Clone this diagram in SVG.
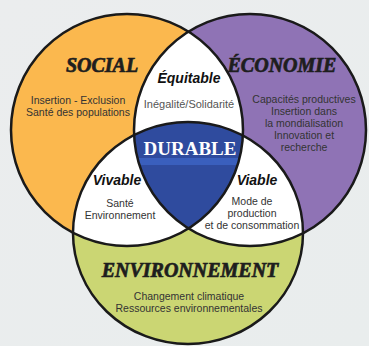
<svg xmlns="http://www.w3.org/2000/svg" width="369" height="346" viewBox="0 0 369 346">
  <style>
    .head { font-family: "Liberation Serif", serif; font-weight: bold; font-style: italic; font-size: 20px; fill: #1e1e1e; stroke: #1e1e1e; stroke-width: 0.7; text-anchor: middle; }
    .sub { font-family: "Liberation Sans", Arial, sans-serif; font-weight: bold; font-style: italic; font-size: 14px; fill: #111; text-anchor: middle; }
    .txt { font-family: "Liberation Sans", Arial, sans-serif; font-size: 10.5px; fill: #333; text-anchor: middle; }
    .outline { fill: none; stroke: #1a1a1a; stroke-width: 2.5; }
  </style>
  <defs>
    <clipPath id="clipO"><circle cx="127" cy="130" r="116"/></clipPath>
    <clipPath id="clipP"><circle cx="250" cy="130" r="116"/></clipPath>
    <clipPath id="clipG"><ellipse cx="188" cy="233" rx="115" ry="111"/></clipPath>
    <linearGradient id="bg" x1="0" y1="0" x2="1" y2="1">
      <stop offset="0" stop-color="#ebedee"/>
      <stop offset="1" stop-color="#e9eded"/>
    </linearGradient>
  </defs>
  <rect width="369" height="346" fill="url(#bg)"/>

  <g id="social">
    <circle cx="127" cy="130" r="116" fill="#fbb84e"/>
  </g>
  <g id="economie">
    <circle cx="250" cy="130" r="116" fill="#8f73b5"/>
  </g>
  <g id="environnement">
    <ellipse cx="188" cy="233" rx="115" ry="111" fill="#cbd673"/>
  </g>

  <g id="equitable">
    <circle cx="127" cy="130" r="116" fill="#ffffff" clip-path="url(#clipP)"/>
  </g>
  <g id="vivable">
    <circle cx="127" cy="130" r="116" fill="#ffffff" clip-path="url(#clipG)"/>
  </g>
  <g id="viable">
    <circle cx="250" cy="130" r="116" fill="#ffffff" clip-path="url(#clipG)"/>
  </g>
  <g id="durable">
    <g clip-path="url(#clipO)">
      <g clip-path="url(#clipP)">
        <g clip-path="url(#clipG)">
          <rect x="60" y="100" width="260" height="160" fill="#2f4b9e"/>
          <rect x="100" y="158" width="180" height="7" fill="#3a5fbd"/>
        </g>
      </g>
    </g>
  </g>

  <g id="outlines">
    <circle class="outline" cx="127" cy="130" r="116"/>
    <circle class="outline" cx="250" cy="130" r="116"/>
    <ellipse class="outline" cx="188" cy="233" rx="115" ry="111"/>
  </g>
  <g id="connectors"/>

  <g id="labels-social">
    <text class="head" x="102" y="72">SOCIAL</text>
    <text class="txt" x="78" y="104">Insertion - Exclusion</text>
    <text class="txt" x="78" y="116">Santé des populations</text>
  </g>
  <g id="labels-economie">
    <text class="head" x="282" y="72">ÉCONOMIE</text>
    <text class="txt" x="304" y="103">Capacités productives</text>
    <text class="txt" x="304" y="115">Insertion dans</text>
    <text class="txt" x="304" y="127">la mondialisation</text>
    <text class="txt" x="304" y="139">Innovation et</text>
    <text class="txt" x="304" y="151">recherche</text>
  </g>
  <g id="labels-environnement">
    <text class="head" x="190" y="277">ENVIRONNEMENT</text>
    <text class="txt" x="189" y="300">Changement climatique</text>
    <text class="txt" x="189" y="312">Ressources environnementales</text>
  </g>
  <g id="labels-equitable">
    <text class="sub" x="189" y="83">Équitable</text>
    <text class="txt" x="189" y="108" style="fill:#555;font-size:11px">Inégalité/Solidarité</text>
  </g>
  <g id="labels-vivable">
    <text class="sub" x="117" y="185">Vivable</text>
    <text class="txt" x="120" y="207">Santé</text>
    <text class="txt" x="120" y="219">Environnement</text>
  </g>
  <g id="labels-viable">
    <text class="sub" x="257" y="185">Viable</text>
    <text class="txt" x="252" y="205">Mode de</text>
    <text class="txt" x="252" y="217">production</text>
    <text class="txt" x="252" y="229">et de consommation</text>
  </g>
  <g id="labels-durable">
    <text x="190" y="155" style="font-family:'Liberation Serif',serif;font-weight:bold;font-size:19px;fill:#ffffff;text-anchor:middle">DURABLE</text>
  </g>
</svg>
